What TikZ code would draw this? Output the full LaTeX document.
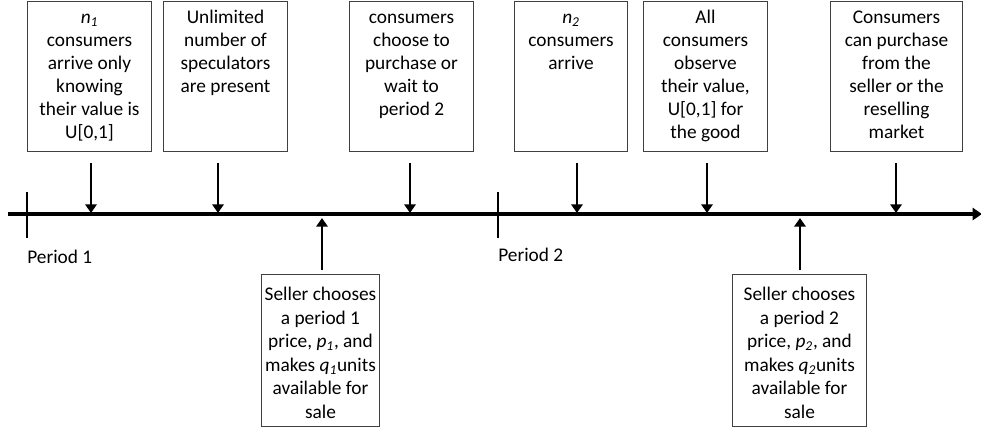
\documentclass[tikz,border=0pt]{standalone}
\usepackage{fontspec}
\setmainfont{Carlito}
\usetikzlibrary{positioning, arrows.meta}

% text of a box, top aligned: width, height, lines
\newcommand{\evtext}[3]{\parbox[t][#2][t]{#1}{\centering\strut #3}}

\tikzset{
    evbox/.style={draw=black!75, line width=0.75pt, anchor=north west,
        inner xsep=0pt, inner ysep=4.8pt, font=\fontsize{14.5pt}{17.2pt}\selectfont},
    sellbox/.style={evbox, inner ysep=7.1pt, font=\fontsize{14.5pt}{17.7pt}\selectfont},
    evarrow/.style={line width=2.2pt, -{Triangle[width=8.5pt,length=6.5pt]}},
    periodlabel/.style={anchor=base west, inner sep=0pt, font=\fontsize{14.5pt}{17.2pt}\selectfont}
}

\begin{document}
\begin{tikzpicture}[x=0.75pt, y=-0.75pt]
    \useasboundingbox (0,0) rectangle (981,429);

    % Events above the timeline
    \node[evbox] (e1) at (27,1) {\evtext{93pt}{102.9pt}{\textit{n}\textsubscript{\textit{1}}\\ consumers\\ arrive only\\ knowing\\ their value is\\ U[0,1]}};
    \node[evbox] (e2) at (163,1) {\evtext{93pt}{102.9pt}{Unlimited\\ number of\\ speculators\\ are present}};
    \node[evbox] (e3) at (349,1) {\evtext{93pt}{102.9pt}{consumers\\ choose to\\ purchase or\\ wait to\\ period 2}};
    \node[evbox] (e4) at (514,1) {\evtext{84.75pt}{102.9pt}{\textit{n}\textsubscript{\textit{2}}\\ consumers\\ arrive}};
    \node[evbox] (e5) at (643,1) {\evtext{93pt}{102.9pt}{All\\ consumers\\ observe\\ their value,\\ U[0,1] for\\ the good}};
    \node[evbox] (e6) at (830,1) {\evtext{99pt}{102.9pt}{Consumers\\ can purchase\\ from the\\ seller or the\\ reselling\\ market}};

    % Seller decisions below the timeline
    \node[sellbox] (s1) at (261,274) {\evtext{88.5pt}{99.8pt}{Seller chooses\\ a period 1\\ price, \textit{p}\textsubscript{\textit{1}}, and\\ makes \textit{q}\textsubscript{\textit{1}}units\\ available for\\ sale}};
    \node[sellbox] (s2) at (732,274) {\evtext{100.5pt}{99.8pt}{Seller chooses\\ a period 2\\ price, \textit{p}\textsubscript{\textit{2}}, and\\ makes \textit{q}\textsubscript{\textit{2}}units\\ available for\\ sale}};

    % Timeline
    \coordinate (tl0) at (8,214);
    \coordinate (tl1) at (982,214);
    \draw[line width=2.3pt, -{Triangle[width=9pt,length=7pt]}] (tl0) -- (tl1);

    % Period ticks
    \coordinate (p1) at (27,214);
    \coordinate (p2) at (498,214);
    \foreach \p in {p1, p2} {
        \draw[line width=1.5pt] ([yshift=16.5pt]\p) -- ([yshift=-18pt]\p);
    }
    \node[periodlabel] (l1) at (27,263) {Period 1};
    \node[periodlabel] (l2) at (498,261) {Period 2};

    % Arrows down onto the timeline
    \foreach \n/\x in {1/91, 2/218, 3/410, 4/577, 5/707, 6/896} {
        \coordinate (a\n) at (\x,213);
        \draw[evarrow] ([yshift=-8.25pt]e\n.south -| a\n) -- (a\n);
    }

    % Arrows up onto the timeline
    \foreach \n/\x in {1/322, 2/800} {
        \coordinate (u\n) at (\x,218);
        \draw[evarrow] ([yshift=3pt]s\n.north -| u\n) -- (u\n);
    }
\end{tikzpicture}
\end{document}
